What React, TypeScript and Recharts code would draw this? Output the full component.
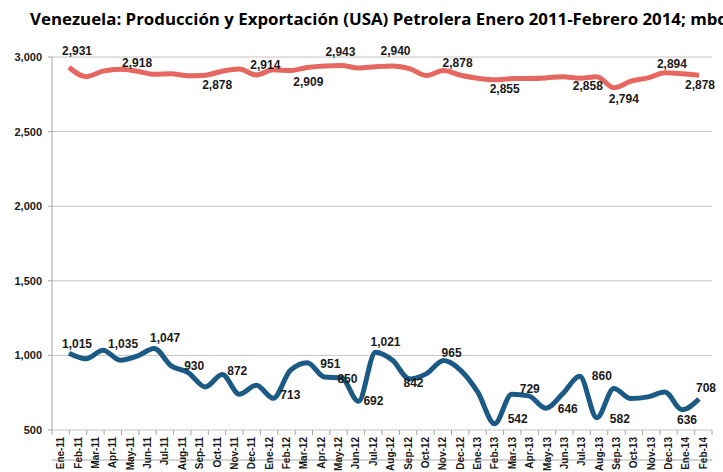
import React from 'react';
import { LineChart, Line, XAxis, YAxis, CartesianGrid, LabelList } from 'recharts';

const months = [
  'Ene-11', 'Feb-11', 'Mar-11', 'Apr-11', 'May-11', 'Jun-11', 'Jul-11', 'Aug-11', 'Sep-11', 'Oct-11', 'Nov-11', 'Dec-11',
  'Ene-12', 'Feb-12', 'Mar-12', 'Apr-12', 'May-12', 'Jun-12', 'Jul-12', 'Aug-12', 'Sep-12', 'Oct-12', 'Nov-12', 'Dec-12',
  'Ene-13', 'Feb-13', 'Mar-13', 'Apr-13', 'May-13', 'Jun-13', 'Jul-13', 'Aug-13', 'Sep-13', 'Oct-13', 'Nov-13', 'Dec-13',
  'Ene-14', 'Feb-14',
];

// produccion (mbd)
const produccion = [
  2931, 2868, 2905, 2918, 2905, 2884, 2887, 2874, 2878, 2905, 2920, 2880,
  2914, 2909, 2930, 2940, 2943, 2926, 2935, 2940, 2922, 2876, 2910, 2878,
  2858, 2848, 2855, 2856, 2860, 2868, 2858, 2868, 2794, 2838, 2860, 2894,
  2888, 2878,
];

// exportacion a USA (mbd)
const exportacion = [
  1015, 978, 1035, 968, 995, 1047, 930, 885, 789, 872, 740, 800,
  713, 900, 951, 855, 850, 692, 1021, 967, 842, 878, 965, 900,
  755, 542, 740, 729, 646, 744, 860, 582, 778, 711, 722, 755,
  636, 708,
];

const yTicks = [500, 1000, 1500, 2000, 2500, 3000];

// which points carry a data label, and where the label sits (dx, dy from the point)
const prodLabelPos: Record<number, [number, number]> = {
  0: [8, -16], 3: [17, -6], 8: [12, 10], 12: [-8, -5], 13: [18, 11], 16: [-1, -14], 19: [3, -15],
  23: [-3, -12], 26: [-7, 10], 30: [8, 8], 32: [10, 11], 35: [7, -9], 37: [1, 10],
};
const expLabelPos: Record<number, [number, number]> = {
  0: [8, -9], 2: [20, -6], 5: [11, -10], 6: [23, 0], 9: [15, -3], 12: [17, -3], 14: [23, 1],
  16: [6, 1], 17: [15, 0], 18: [10, -10], 20: [4, 4], 22: [8, -8], 25: [23, -5], 27: [1, -7],
  28: [22, 1], 30: [22, 0], 31: [23, 1], 36: [5, 10], 37: [7, -11],
};

const data = months.map((m, i) => ({ m, prod: produccion[i], exp: exportacion[i] }));

const W = 723;
const H = 472;
const plotW = 660;
const plotBottom = 430;
const bandW = plotW / months.length;
const axisGray = '#a6a6a6';
const fmt = (v: number) => v.toLocaleString('en-US');

function makeLabel(pos: Record<number, [number, number]>) {
  return (props: any) => {
    const { x, y, value, index } = props;
    const p = pos[index];
    if (!p) return null;
    return (
      <text
        x={x + p[0]}
        y={y + p[1]}
        textAnchor="middle"
        dominantBaseline="central"
        fontSize={12}
        fontWeight="bold"
        fill="#1a1a1a"
        fontFamily="'Liberation Sans', Arial, sans-serif"
      >
        {fmt(value)}
      </text>
    );
  };
}

function MonthTick(props: any) {
  const { x, payload, index } = props;
  const left = x - bandW / 2;
  const y = plotBottom;
  return (
    <g>
      <line x1={left} x2={left} y1={y} y2={y + 5} stroke={axisGray} />
      {index === months.length - 1 && (
        <line x1={x + bandW / 2} x2={x + bandW / 2} y1={y} y2={y + 5} stroke={axisGray} />
      )}
      <text
        transform={`translate(${x},${y + 7}) rotate(-90)`}
        textAnchor="end"
        dy="0.35em"
        fontSize={10}
        fontWeight="bold"
        fill="#1a1a1a"
        fontFamily="'Liberation Sans', Arial, sans-serif"
      >
        {payload.value}
      </text>
    </g>
  );
}

export default function App() {
  return (
    <div style={{ position: 'fixed', left: 0, top: 0, width: W, height: H, background: '#fff', overflow: 'hidden' }}>
      <svg width={W} height={40} style={{ position: 'absolute', left: 0, top: 0 }}>
        <text
          x={30}
          y={25}
          fontSize={16}
          fontWeight="bold"
          fill="#000"
          fontFamily="'Open Sans', sans-serif"
          textLength={698}
          lengthAdjust="spacingAndGlyphs"
        >
          Venezuela: Producción y Exportación (USA) Petrolera Enero 2011-Febrero 2014; mbd
        </text>
      </svg>
      <LineChart width={W} height={H} data={data} margin={{ top: 57, right: 11, bottom: 0, left: 0 }}>
        <CartesianGrid xAxisId="lab" horizontal vertical={false} stroke="#c4c4c4" />
        <XAxis dataKey="m" hide padding={{ left: 17, right: 13 }} />
        <XAxis
          xAxisId="lab"
          dataKey="m"
          scale="band"
          interval={0}
          height={42}
          tickSize={0}
          tickMargin={0}
          tickLine={false}
          axisLine={{ stroke: axisGray }}
          tick={<MonthTick />}
        />
        <YAxis
          domain={[500, 3000]}
          ticks={yTicks}
          width={52}
          tickFormatter={fmt}
          tickSize={4}
          tickMargin={6}
          axisLine={{ stroke: axisGray }}
          tickLine={{ stroke: axisGray }}
          tick={{ fontSize: 11, fontWeight: 'bold', fill: '#1a1a1a', fontFamily: "'Liberation Sans', Arial, sans-serif" }}
        />
        <Line
          dataKey="prod"
          type="monotone"
          stroke="#e6675f"
          strokeWidth={5}
          dot={false}
          isAnimationActive={false}
        >
          <LabelList dataKey="prod" content={makeLabel(prodLabelPos)} />
        </Line>
        <Line
          dataKey="exp"
          type="monotone"
          stroke="#1a5a85"
          strokeWidth={5}
          dot={false}
          isAnimationActive={false}
        >
          <LabelList dataKey="exp" content={makeLabel(expLabelPos)} />
        </Line>
      </LineChart>
    </div>
  );
}
